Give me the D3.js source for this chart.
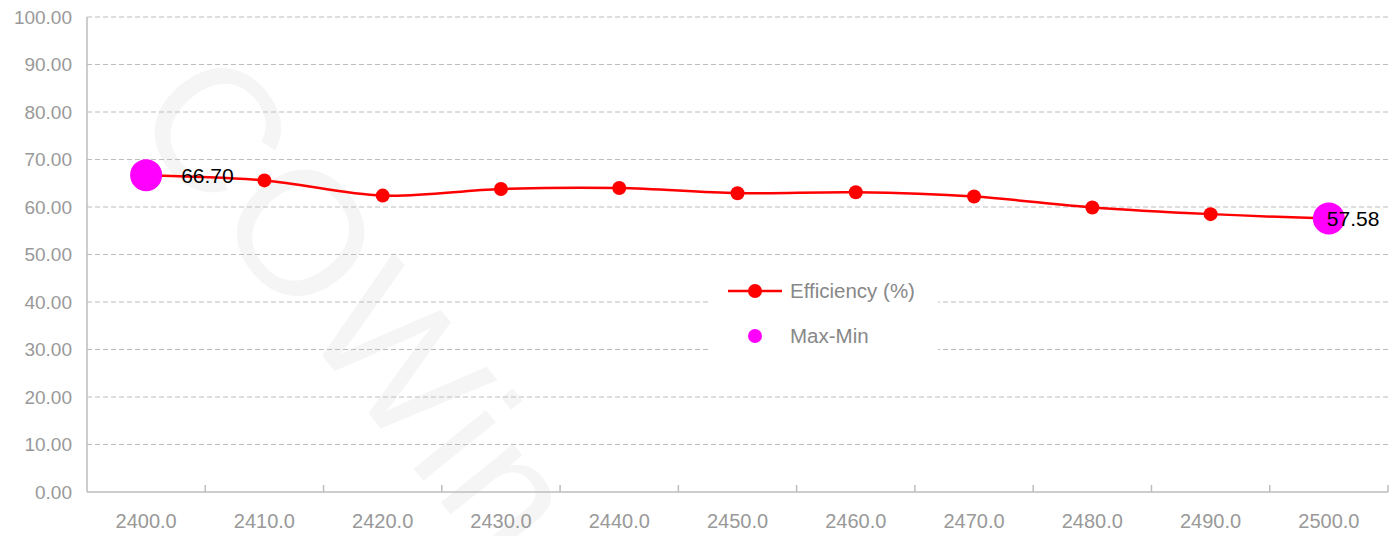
<!DOCTYPE html>
<html><head><meta charset="utf-8">
<script src="https://cdn.jsdelivr.net/npm/d3@7"></script>
<style>body{margin:0;background:#fff}svg{display:block}</style>
</head><body><svg id="c" width="1399" height="536"></svg>
<script>
const categories = ["2400.0","2410.0","2420.0","2430.0","2440.0","2450.0","2460.0","2470.0","2480.0","2490.0","2500.0"];
const efficiency = [66.70,65.6,62.4,63.8,64.0,62.9,63.1,62.2,59.9,58.5,57.58];
const yTicks = [0,10,20,30,40,50,60,70,80,90,100];
const maxMinIdx = [0,10];
const seriesNames = ["Efficiency (%)","Max-Min"];

const svg = d3.select("#c");
const L=87,R=1388,T=17,B=492;
const x = d3.scaleBand().domain(categories).range([L,R]);
const y = d3.scaleLinear().domain([0,100]).range([B,T]);
const font = "Arial, 'Liberation Sans', sans-serif";

// watermark
svg.append("text").attr("transform","translate(128,116) rotate(51)")
  .attr("font-family",font).attr("font-size",176).attr("fill","#f5f5f5")
  .attr("letter-spacing",4).text("COWin");

// grid
svg.append("g").selectAll("line").data(yTicks.filter(d=>d>0)).join("line")
  .attr("x1",L).attr("x2",R).attr("y1",d=>y(d)).attr("y2",d=>y(d))
  .attr("stroke","#bdbdbd").attr("stroke-width",1).attr("stroke-dasharray","5,3");

// y labels
svg.append("g").selectAll("text").data(yTicks).join("text")
  .attr("x",72).attr("y",d=>y(d)).attr("dy","0.35em").attr("text-anchor","end")
  .attr("font-family",font).attr("font-size",19).attr("fill","#999").text(d=>d.toFixed(2));

// axes
svg.append("line").attr("x1",L).attr("x2",L).attr("y1",T).attr("y2",B).attr("stroke","#bdbdbd").attr("stroke-width",1.5);
svg.append("line").attr("x1",L).attr("x2",R).attr("y1",B).attr("y2",B).attr("stroke","#bdbdbd").attr("stroke-width",1.5);
svg.append("g").selectAll("line").data(categories).join("line")
  .attr("x1",d=>x(d)+x.bandwidth()).attr("x2",d=>x(d)+x.bandwidth()).attr("y1",B).attr("y2",B-7)
  .attr("stroke","#bdbdbd").attr("stroke-width",1.5);
svg.append("g").selectAll("text").data(categories).join("text")
  .attr("x",d=>x(d)+x.bandwidth()/2).attr("y",521).attr("dy","0.35em").attr("text-anchor","middle")
  .attr("font-family",font).attr("font-size",20).attr("fill","#999").text(d=>d);

const cx = i=>x(categories[i])+x.bandwidth()/2;
const line = d3.line().x((d,i)=>cx(i)).y(d=>y(d)).curve(d3.curveCatmullRom.alpha(0.5));
svg.append("path").attr("d",line(efficiency)).attr("fill","none").attr("stroke","#ff0000").attr("stroke-width",2.5);
svg.append("g").selectAll("circle").data(efficiency).join("circle")
  .attr("cx",(d,i)=>cx(i)).attr("cy",d=>y(d)).attr("r",7).attr("fill","#ff0000");

// max-min
svg.append("g").selectAll("circle").data(maxMinIdx).join("circle")
  .attr("cx",i=>cx(i)).attr("cy",i=>y(efficiency[i])).attr("r",16).attr("fill","#ff00ff");
svg.append("g").selectAll("text").data(maxMinIdx).join("text")
  .attr("x",i=>cx(i)+ (i===0?35:-2)).attr("y",i=>y(efficiency[i])).attr("dy","0.35em")
  .attr("font-family",font).attr("font-size",21).attr("fill","#000").text(i=>efficiency[i].toFixed(2));

// legend
const lg = svg.append("g");
lg.append("rect").attr("x",710).attr("y",268).attr("width",228).attr("height",86).attr("fill","#fff");
lg.append("line").attr("x1",728).attr("x2",782).attr("y1",291).attr("y2",291).attr("stroke","#ff0000").attr("stroke-width",2.5);
lg.append("circle").attr("cx",755).attr("cy",291).attr("r",7).attr("fill","#ff0000");
lg.append("circle").attr("cx",755).attr("cy",336).attr("r",7).attr("fill","#ff00ff");
lg.selectAll("text").data(seriesNames).join("text")
  .attr("x",790).attr("y",(d,i)=>291+i*45).attr("dy","0.35em")
  .attr("font-family",font).attr("font-size",20.5).attr("fill","#888").text(d=>d);
</script></body></html>
